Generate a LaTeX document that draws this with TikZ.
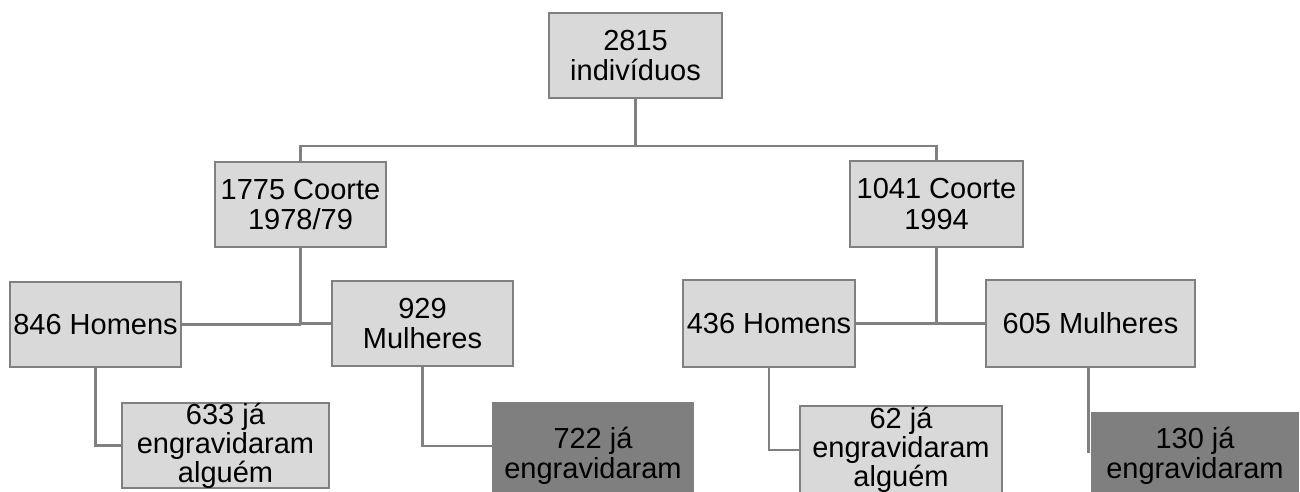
\documentclass[tikz,border=0pt]{standalone}
\usepackage{fontspec}
\setmainfont{Liberation Sans}
\definecolor{boxfill}{HTML}{D9D9D9}
\definecolor{darkfill}{HTML}{7F7F7F}
\definecolor{edge}{HTML}{808080}
\tikzset{
  box/.style={draw=edge, line width=2.2pt, fill=boxfill, inner sep=0pt, align=center,
    font=\fontsize{29}{30.5}\selectfont, text=black},
  darkbox/.style={box, fill=darkfill, draw=darkfill},
  link/.style={draw=edge, line width=2.5pt}
}
\begin{document}
\begin{tikzpicture}[x=1pt,y=-1pt]
\clip (0,0) rectangle (1300,491);
\node[box, minimum width=173pt, minimum height=85pt] (top) at (635.5,55.5) {2815\\indivíduos};
\node[box, minimum width=171pt, minimum height=85pt] (c1) at (300.5,204.5) {1775 Coorte\\1978/79};
\node[box, minimum width=173pt, minimum height=86pt] (c2) at (936.5,204) {1041 Coorte\\1994};
\node[box, minimum width=171pt, minimum height=85pt] (h1) at (95.5,324.5) {846 Homens};
\node[box, minimum width=181pt, minimum height=85pt] (m1) at (422.5,323.5) {929\\Mulheres};
\node[box, minimum width=172pt, minimum height=87pt] (h2) at (769,323.5) {436 Homens};
\node[box, minimum width=209pt, minimum height=87pt] (m2) at (1090.5,323.5) {605 Mulheres};
\node[box, minimum width=207pt, minimum height=85pt, font=\fontsize{29}{29}\selectfont] (g1) at (225.5,445.5) {633 já\\engravidaram\\alguém};
\node[darkbox, minimum width=200pt, minimum height=106pt] (g2) at (593,456) {722 já\\engravidaram};
\node[box, minimum width=202pt, minimum height=88pt, font=\fontsize{29}{29}\selectfont] (g3) at (901,450) {62 já\\engravidaram\\alguém};
\node[darkbox, minimum width=206pt, minimum height=86pt] (g4) at (1195,456) {130 já\\engravidaram};
% connectors
\coordinate (j0) at ([yshift=-47pt]top.south);
\draw[link] (top.south) -- (j0);
\draw[link] (c1.north) |- (j0) -| (c2.north);
\draw[link] (c1.south) -- (c1.south |- m1.west);
\draw[link] (h1.east) -- (h1.east -| c1.south);
\draw[link] (m1.west) -- (m1.west -| c1.south);
\draw[link] (c2.south) -- (c2.south |- h2.east);
\draw[link] (h2.east) -- (m2.west);
\draw[link] (h1.south) |- (g1.west);
\draw[link] (m1.south) |- ([yshift=10pt]g2.west);
\draw[link] (h2.south) |- (g3.west);
\coordinate (e4) at ([yshift=-85pt,xshift=-2pt]m2.south);
\draw[link] ([xshift=-2pt]m2.south) -- (e4);
\end{tikzpicture}
\end{document}
